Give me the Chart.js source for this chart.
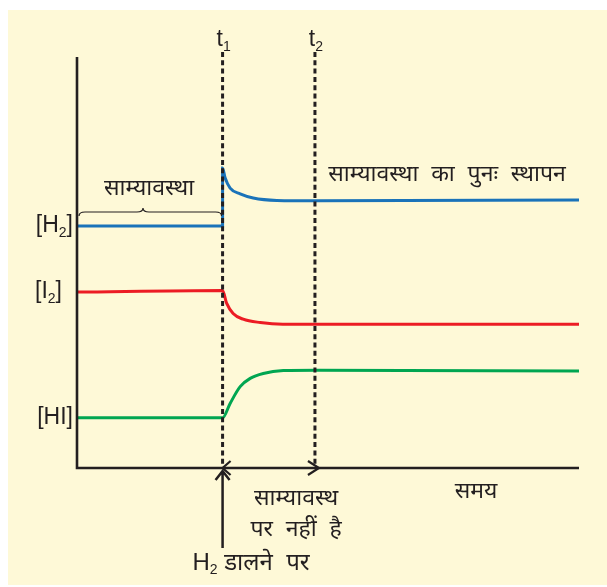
<!DOCTYPE html>
<html>
<head>
<meta charset="utf-8">
<script src="https://cdn.jsdelivr.net/npm/chart.js@4.4.1/dist/chart.umd.min.js"></script>
<style>
  body { margin: 0; background: #fff; }
  canvas { display: block; }
</style>
</head>
<body>
<canvas id="eqChart" width="607" height="587"></canvas>
<script>
// time marks (arbitrary units, axis runs 0..100)
var tMarks = [29.0, 47.4];
var tLabels = ["1", "2"];

// concentration vs time
var h2Time = [0, 29.0, 29.0, 29.5, 30.5, 32.5, 35.1, 39.8, 47.8, 100];
var h2Conc = [58.9, 58.9, 73.0, 70.6, 68.1, 66.7, 65.7, 65.1, 65.0, 65.2];

var i2Time = [0, 29.0, 29.8, 31.1, 33.1, 36.5, 41.0, 47.7, 100];
var i2Conc = [42.8, 43.2, 40.1, 37.6, 36.2, 35.4, 35.0, 35.0, 35.0];

var hiTime = [0, 29.0, 30.5, 32.5, 34.5, 37.1, 41.1, 47.7, 100];
var hiConc = [12.2, 12.2, 15.7, 19.8, 21.8, 23.0, 23.7, 23.8, 23.6];

var FONT = "'Liberation Sans', 'Noto Sans', sans-serif";

function pts(xs, ys) {
    var out = [];
    for (var i = 0; i < xs.length; i++) {
        out.push({ x: xs[i], y: ys[i] });
    }
    return out;
}

// text with subscripts: parts = [[text, isSub], ...]
function richText(ctx, parts, x, y, size, align) {
    var subSize = Math.round(size * 0.6);
    var w = 0;
    parts.forEach(function (p) {
        ctx.font = (p[1] ? subSize : size) + "px " + FONT;
        w += ctx.measureText(p[0]).width;
    });
    var cx = x;
    if (align === "center") cx = x - w / 2;
    if (align === "right") cx = x - w;
    ctx.textAlign = "left";
    ctx.textBaseline = "middle";
    parts.forEach(function (p) {
        ctx.font = (p[1] ? subSize : size) + "px " + FONT;
        ctx.fillText(p[0], cx, p[1] ? y + size * 0.3 : y);
        cx += ctx.measureText(p[0]).width;
    });
}

var decor = {
    id: "decor",
    beforeDraw: function (chart) {
        var ctx = chart.ctx;
        ctx.save();
        ctx.fillStyle = "#ffffff";
        ctx.fillRect(0, 0, chart.width, chart.height);
        ctx.fillStyle = "#fef9d7";
        ctx.fillRect(8, 10, chart.width - 8, chart.height - 12);
        ctx.restore();
    },
    afterDatasetsDraw: function (chart) {
        var ctx = chart.ctx;
        var xs = chart.scales.x, ys = chart.scales.y;
        var area = chart.chartArea;
        ctx.save();
        ctx.strokeStyle = "#231f20";
        ctx.fillStyle = "#231f20";

        // dashed time marks
        ctx.lineWidth = 3;
        ctx.setLineDash([5, 3.3]);
        tMarks.forEach(function (t) {
            var px = xs.getPixelForValue(t);
            ctx.beginPath();
            ctx.moveTo(px, area.top - 5);
            ctx.lineTo(px, area.bottom);
            ctx.stroke();
        });
        ctx.setLineDash([]);

        // axes
        ctx.lineWidth = 2.6;
        ctx.beginPath();
        ctx.moveTo(area.left, area.top);
        ctx.lineTo(area.left, area.bottom);
        ctx.lineTo(area.right, area.bottom);
        ctx.stroke();

        var x1 = xs.getPixelForValue(tMarks[0]);
        var x2 = xs.getPixelForValue(tMarks[1]);
        var yb = area.bottom;

        // double arrow between t1 and t2 on the axis
        ctx.lineWidth = 2.2;
        ctx.beginPath();
        ctx.moveTo(x1 + 8, yb - 7); ctx.lineTo(x1, yb); ctx.lineTo(x1 + 8, yb + 7);
        ctx.moveTo(x2 - 7, yb - 7); ctx.lineTo(x2 + 4, yb); ctx.lineTo(x2 - 7, yb + 7);
        ctx.stroke();

        // upward arrow "H2 added"
        ctx.lineWidth = 2.5;
        ctx.beginPath();
        ctx.moveTo(x1, yb + 80); ctx.lineTo(x1, yb + 3);
        ctx.moveTo(x1 - 7, yb + 12); ctx.lineTo(x1, yb + 3); ctx.lineTo(x1 + 7, yb + 12);
        ctx.stroke();

        // brace over the first equilibrium
        var by = 212, tip = 143, l = area.left + 2, r = x1 - 1;
        ctx.lineWidth = 1.2;
        ctx.beginPath();
        ctx.moveTo(l, by + 4);
        ctx.quadraticCurveTo(l, by, l + 6, by);
        ctx.lineTo(tip - 6, by);
        ctx.quadraticCurveTo(tip, by, tip, by - 4);
        ctx.quadraticCurveTo(tip, by, tip + 6, by);
        ctx.lineTo(r - 6, by);
        ctx.quadraticCurveTo(r, by, r, by + 4);
        ctx.stroke();

        // t1, t2
        tMarks.forEach(function (t, i) {
            richText(ctx, [["t", false], [tLabels[i], true]], xs.getPixelForValue(t) + 1, 40, 23, "center");
        });

        // species labels at their starting concentrations
        richText(ctx, [["[H", false], ["2", true], ["]", false]], area.left - 4, ys.getPixelForValue(h2Conc[0]), 23, "right");
        richText(ctx, [["[I", false], ["2", true], ["]", false]], area.left - 15, ys.getPixelForValue(i2Conc[0]), 23, "right");
        richText(ctx, [["[HI]", false]], area.left - 4, ys.getPixelForValue(hiConc[0]), 23, "right");

        // annotations
        richText(ctx, [["साम्यावस्था", false]], 149, 189, 23, "center");
        richText(ctx, [["साम्यावस्था  का  पुनः  स्थापन", false]], 447, 175, 23, "center");
        richText(ctx, [["समय", false]], 476, 492, 23, "center");
        richText(ctx, [["साम्यावस्थ", false]], 296, 499, 23, "center");
        richText(ctx, [["पर  नहीं  है", false]], 296, 530, 23, "center");
        richText(ctx, [["H", false], ["2", true], [" डालने  पर", false]], 251, 563, 24, "center");

        ctx.restore();
    }
};

new Chart(document.getElementById("eqChart"), {
    type: "line",
    data: {
        datasets: [
            { label: "[H2]", data: pts(h2Time, h2Conc), borderColor: "#1a73b9", borderWidth: 3 },
            { label: "[I2]", data: pts(i2Time, i2Conc), borderColor: "#ec1c24", borderWidth: 3 },
            { label: "[HI]", data: pts(hiTime, hiConc), borderColor: "#00a651", borderWidth: 3 }
        ]
    },
    options: {
        responsive: false,
        animation: false,
        events: [],
        layout: { padding: { left: 77, right: 28, top: 57, bottom: 119 } },
        elements: {
            point: { radius: 0 },
            line: { cubicInterpolationMode: "monotone", fill: false }
        },
        datasets: { line: { clip: false } },
        scales: {
            x: { type: "linear", min: 0, max: 100, display: false },
            y: { min: 0, max: 100, display: false }
        },
        plugins: {
            legend: { display: false },
            tooltip: { enabled: false }
        }
    },
    plugins: [decor]
});
</script>
</body>
</html>
